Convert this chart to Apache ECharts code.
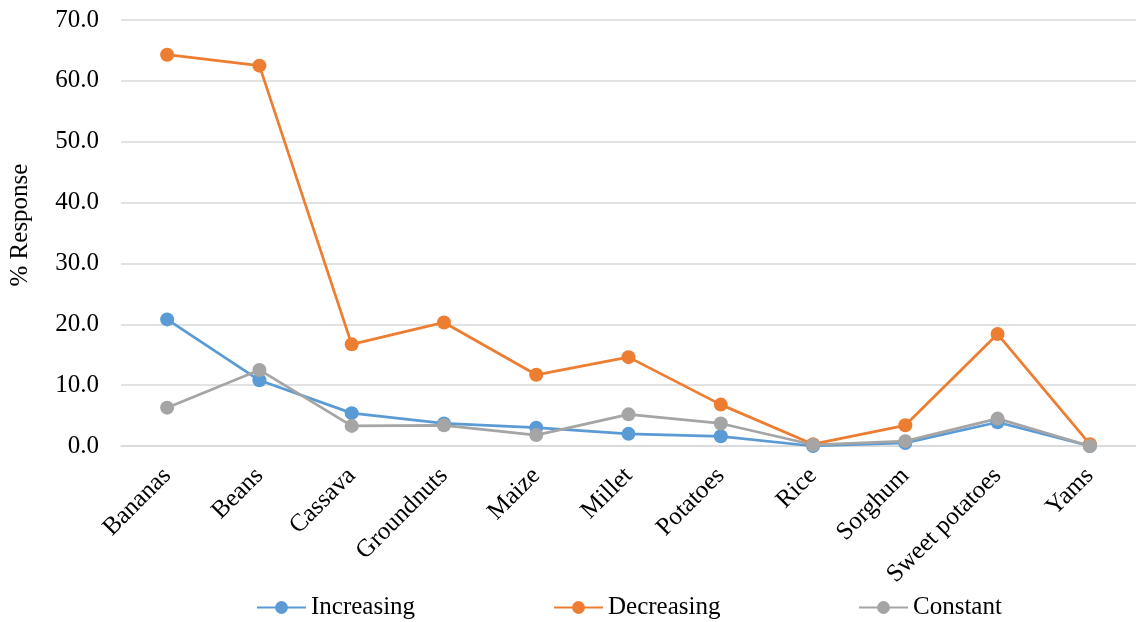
<!DOCTYPE html>
<html>
<head>
<meta charset="utf-8">
<script src="https://cdn.jsdelivr.net/npm/echarts@6/dist/echarts.min.js"></script>
<style>
html,body{margin:0;padding:0;background:#fff;overflow:hidden;}
#chart{width:1136px;height:622px;}
</style>
</head>
<body>
<div id="chart"></div>
<script>
const categories = ['Bananas','Beans','Cassava','Groundnuts','Maize','Millet','Potatoes','Rice','Sorghum','Sweet potatoes','Yams'];
const increasing = [20.8, 10.8, 5.4, 3.7, 3.0, 2.0, 1.6, 0.0, 0.5, 3.9, 0.0];
const decreasing = [64.3, 62.5, 16.7, 20.3, 11.7, 14.6, 6.8, 0.3, 3.4, 18.4, 0.3];
const constant   = [6.3, 12.5, 3.3, 3.4, 1.8, 5.2, 3.7, 0.2, 0.8, 4.5, 0.0];
const yTicks = [0, 10, 20, 30, 40, 50, 60, 70];

const FONT = "'Liberation Serif','Times New Roman',serif";
const chart = echarts.init(document.getElementById('chart'));

function mkSeries(name, data, color) {
  return {
    name: name, type: 'line', data: data,
    symbol: 'circle', symbolSize: 14,
    itemStyle: {color: color},
    lineStyle: {color: color, width: 2.75},
    emphasis: {disabled: true},
    animation: false
  };
}
function mkLegend(name, left) {
  return {
    data: [name], left: left, top: 595, padding: 0,
    itemWidth: 49, itemHeight: 16, itemGap: 0,
    textStyle: {fontFamily: FONT, fontSize: 25, color: '#000'}
  };
}

chart.setOption({
  animation: false,
  grid: {left: 120, right: -3, top: 20, bottom: 176, containLabel: false},
  legend: [mkLegend('Increasing', 256), mkLegend('Decreasing', 553), mkLegend('Constant', 858)],
  xAxis: {
    type: 'category', data: categories, boundaryGap: true,
    axisLine: {show: true, lineStyle: {color: '#d9d9d9', width: 1.5}},
    axisTick: {show: false},
    axisLabel: {rotate: 45, fontFamily: FONT, fontSize: 25, color: '#000', margin: 26, interval: 0}
  },
  yAxis: {
    type: 'value', min: yTicks[0], max: yTicks[yTicks.length - 1], interval: 10,
    name: '% Response', nameLocation: 'middle', nameGap: 88,
    nameTextStyle: {fontFamily: FONT, fontSize: 25, color: '#000', padding: [0, 0, 0, 16]},
    axisLine: {show: false}, axisTick: {show: false},
    splitLine: {lineStyle: {color: '#d9d9d9', width: 1.5}},
    axisLabel: {fontFamily: FONT, fontSize: 25, color: '#000', margin: 22,
      formatter: v => v.toFixed(1)}
  },
  series: [
    mkSeries('Increasing', increasing, '#5B9BD5'),
    mkSeries('Decreasing', decreasing, '#ED7D31'),
    mkSeries('Constant', constant, '#A5A5A5')
  ]
});
</script>
</body>
</html>
